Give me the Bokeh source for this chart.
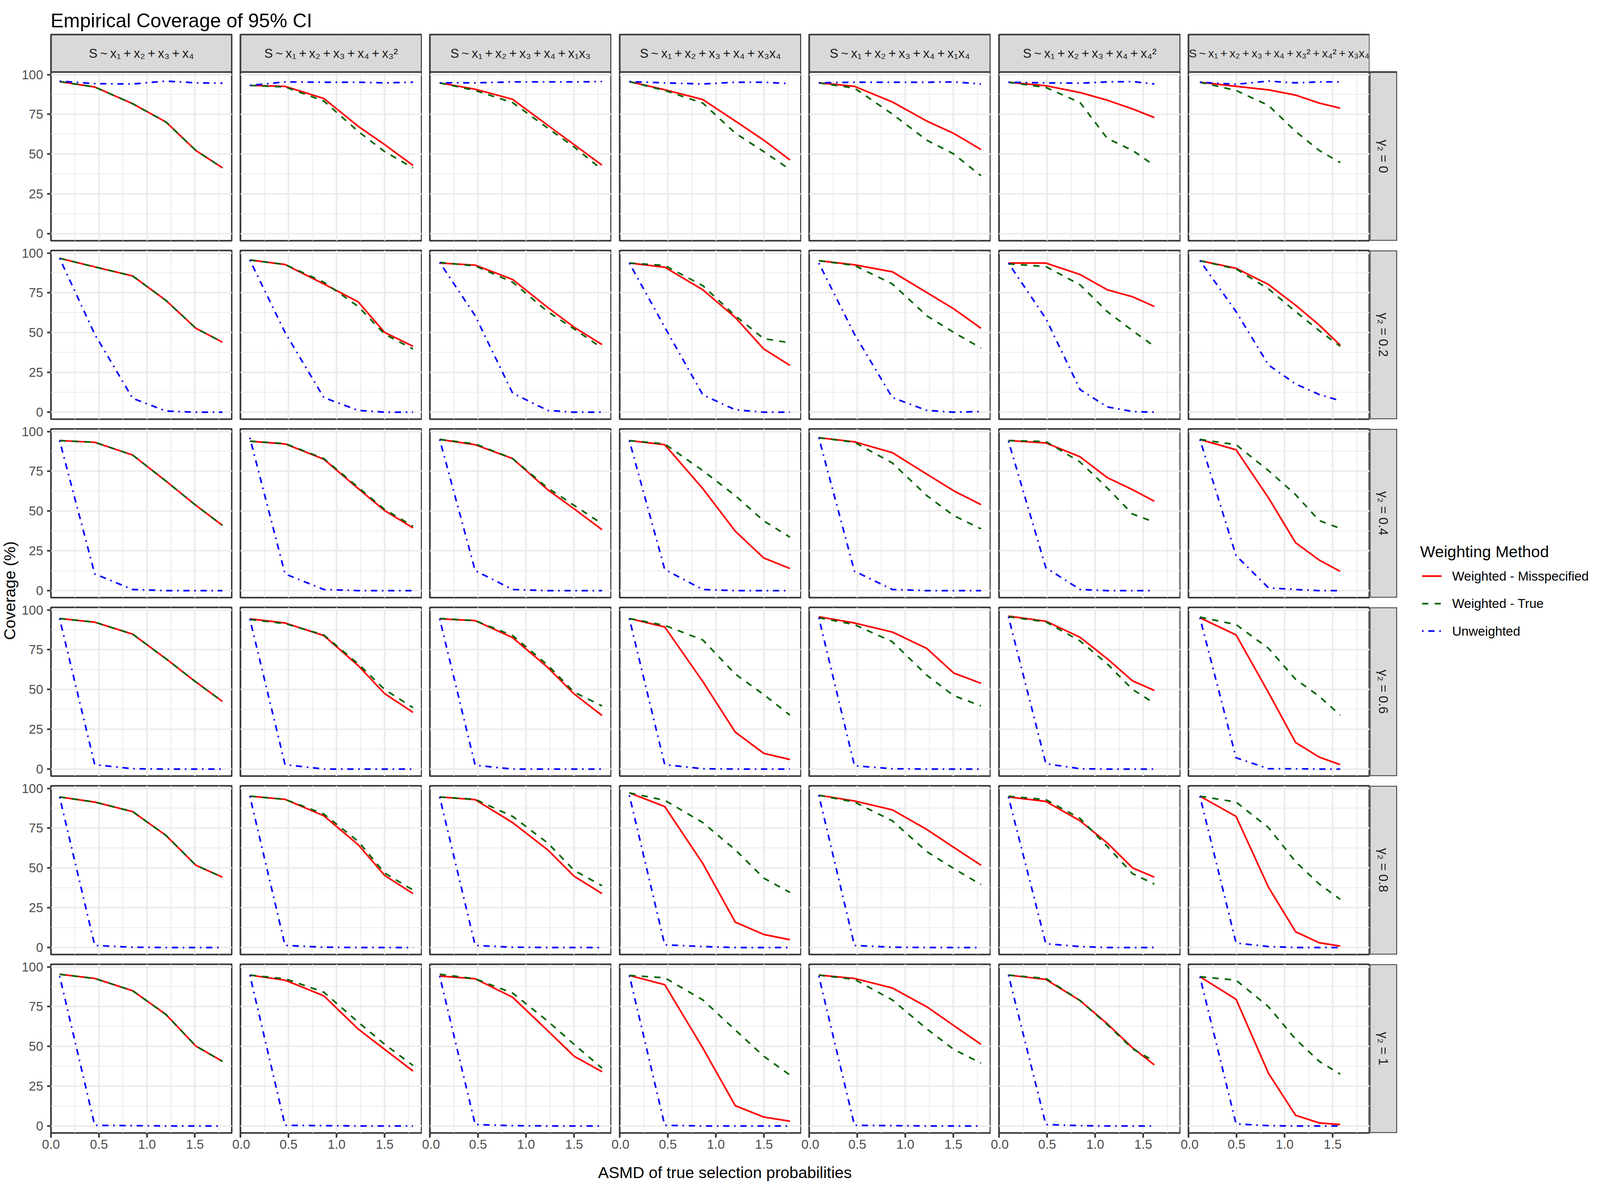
import math
from bokeh.plotting import figure
from bokeh.models import (Range1d, FixedTicker, PrintfTickFormatter, GridBox, ColumnDataSource,
                          BoxAnnotation, Label)
from bokeh.core.properties import value
from bokeh.embed import file_html
from bokeh.resources import INLINE

# ---------------- text ----------------
TITLE = "Empirical Coverage of 95% CI"
X_LABEL = "ASMD of true selection probabilities"
Y_LABEL = "Coverage (%)"
LEGEND_TITLE = "Weighting Method"
METHODS = ["Weighted - Misspecified", "Weighted - True", "Unweighted"]
T = "\u2009"
BASE = f"S{T}~{T}x\u2081{T}+{T}x\u2082{T}+{T}x\u2083{T}+{T}x\u2084"
MODELS = [
    BASE,
    BASE + f"{T}+{T}x\u2083\u00b2",
    BASE + f"{T}+{T}x\u2081x\u2083",
    BASE + f"{T}+{T}x\u2083x\u2084",
    BASE + f"{T}+{T}x\u2081x\u2084",
    BASE + f"{T}+{T}x\u2084\u00b2",
    BASE + f"{T}+{T}x\u2083\u00b2{T}+{T}x\u2084\u00b2{T}+{T}x\u2083x\u2084",
]
GAMMAS = ["\u03b3\u2082 = 0", "\u03b3\u2082 = 0.2", "\u03b3\u2082 = 0.4",
          "\u03b3\u2082 = 0.6", "\u03b3\u2082 = 0.8", "\u03b3\u2082 = 1"]
X_TICKS = [0.0, 0.5, 1.0, 1.5]
X_MINOR = [0.25, 0.75, 1.25, 1.75]
Y_TICKS = [0, 25, 50, 75, 100]
Y_MINOR = [12.5, 37.5, 62.5, 87.5]

# ---------------- data: ASMD per selection model ----------------
ASMD_M1 = [0.090, 0.456, 0.851, 1.199, 1.510, 1.787]
ASMD_M2 = [0.098, 0.464, 0.867, 1.225, 1.500, 1.795]
ASMD_M3 = [0.102, 0.471, 0.860, 1.225, 1.500, 1.790]
ASMD_M4 = [0.100, 0.468, 0.864, 1.202, 1.498, 1.770]
ASMD_M5 = [0.100, 0.471, 0.865, 1.223, 1.504, 1.787]
ASMD_M6 = [0.098, 0.487, 0.843, 1.126, 1.389, 1.615]
ASMD_M7 = [0.119, 0.495, 0.833, 1.114, 1.360, 1.578]

# coverage (%) per gamma2, one list per selection model (M1..M7)
MIS_G00 = [[95.6, 92.2, 81.7, 70.2, 52.3, 41.4], [93.2, 92.6, 85.0, 67.5, 56.0, 42.9],
           [94.8, 90.8, 84.5, 68.2, 56.0, 43.1], [95.6, 90.5, 84.3, 70.8, 58.8, 46.4],
           [94.8, 92.6, 82.8, 70.8, 63.0, 52.9], [95.2, 93.0, 88.7, 83.9, 78.4, 73.0],
           [95.2, 92.6, 90.4, 87.1, 82.1, 78.9]]
TRU_G00 = [[95.6, 92.2, 81.7, 70.2, 52.3, 41.4], [93.2, 92.2, 83.4, 64.3, 51.6, 41.4],
           [94.8, 90.0, 82.4, 66.4, 54.5, 40.3], [95.6, 90.0, 82.1, 63.2, 51.6, 40.3],
           [94.8, 91.5, 75.2, 58.8, 50.1, 36.4], [95.2, 91.9, 82.4, 59.9, 52.3, 42.9],
           [95.2, 90.0, 80.6, 64.3, 52.3, 44.7]]
UNW_G00 = [[95.9, 94.3, 94.1, 95.9, 94.8, 94.6], [93.2, 95.4, 95.2, 95.2, 94.8, 95.2],
           [94.8, 94.8, 95.4, 95.4, 95.4, 95.6], [95.6, 94.8, 94.1, 95.2, 95.2, 94.3],
           [94.8, 95.2, 95.2, 95.2, 95.4, 94.1], [95.2, 94.8, 94.6, 95.4, 95.6, 94.1],
           [95.2, 93.9, 95.9, 94.8, 95.4, 95.4]]

MIS_G02 = [[96.7, 91.3, 85.6, 70.2, 52.7, 44.0], [95.6, 92.8, 80.6, 69.3, 50.1, 41.4],
           [93.7, 92.4, 83.4, 65.8, 53.4, 42.5], [93.7, 91.1, 76.9, 59.5, 39.7, 29.4],
           [95.2, 92.6, 88.2, 75.2, 64.9, 52.7], [93.7, 93.7, 86.5, 76.9, 72.5, 66.4],
           [95.2, 90.4, 80.2, 67.2, 54.7, 42.1]]
TRU_G02 = [[96.7, 91.3, 85.6, 70.2, 52.7, 44.0], [95.6, 92.8, 81.7, 66.4, 49.0, 39.7],
           [94.1, 91.9, 81.7, 63.2, 52.3, 40.3], [93.7, 92.2, 79.5, 60.6, 46.2, 43.6],
           [95.2, 92.2, 80.6, 60.6, 50.1, 40.3], [93.2, 91.5, 80.0, 63.2, 51.2, 41.4],
           [95.2, 90.0, 77.4, 63.2, 51.2, 41.4]]
UNW_G02 = [[96.7, 49.0, 8.7, 0.7, 0.0, 0.0], [95.6, 50.1, 9.2, 1.1, 0.0, 0.0],
           [94.1, 60.6, 12.0, 1.1, 0.0, 0.0], [93.7, 53.4, 10.9, 1.5, 0.0, 0.0],
           [93.7, 49.0, 9.2, 1.1, 0.0, 0.4], [93.7, 58.8, 14.2, 3.3, 0.4, 0.0],
           [95.2, 63.2, 29.6, 17.7, 11.1, 7.2]]

MIS_G04 = [[94.3, 93.2, 85.2, 68.8, 53.6, 41.0], [93.9, 92.2, 82.6, 64.1, 50.3, 39.4],
           [95.0, 91.7, 83.0, 63.4, 51.4, 38.3], [94.3, 91.7, 64.1, 37.3, 20.5, 13.9],
           [96.1, 93.5, 86.7, 73.2, 62.7, 54.0], [94.3, 92.8, 84.1, 71.0, 63.4, 56.2],
           [95.0, 88.5, 58.2, 30.1, 19.2, 12.1]]
TRU_G04 = [[94.3, 93.2, 85.2, 68.8, 53.6, 41.0], [93.9, 92.4, 83.0, 64.9, 51.0, 40.5],
           [95.0, 92.2, 83.0, 64.5, 53.6, 42.0], [94.3, 92.2, 75.4, 59.7, 43.8, 33.6],
           [96.1, 93.2, 80.2, 59.7, 47.1, 38.8], [94.3, 93.7, 80.8, 64.5, 48.1, 43.1],
           [95.0, 91.7, 75.4, 60.3, 44.0, 39.1]]
UNW_G04 = [[94.3, 10.5, 0.7, 0.0, 0.0, 0.0], [96.1, 10.5, 0.7, 0.0, 0.0, 0.0],
           [95.0, 12.6, 0.7, 0.0, 0.0, 0.0], [94.3, 13.3, 0.7, 0.0, 0.0, 0.0],
           [96.1, 12.2, 0.7, 0.0, 0.0, 0.0], [93.9, 14.4, 0.7, 0.0, 0.0, 0.0],
           [95.0, 22.0, 1.7, 0.7, 0.0, 0.0]]

MIS_G06 = [[94.6, 92.3, 84.8, 69.3, 54.7, 42.5], [94.4, 91.8, 83.9, 65.0, 47.4, 35.6],
           [94.4, 93.3, 82.6, 63.9, 47.2, 33.7], [94.6, 89.3, 55.0, 23.2, 9.9, 6.0],
           [95.7, 91.8, 86.1, 75.8, 60.3, 53.9], [96.1, 92.9, 82.8, 69.3, 55.4, 49.4],
           [95.1, 84.3, 48.0, 16.7, 7.5, 2.8]]
TRU_G06 = [[94.6, 92.3, 84.8, 69.3, 54.7, 42.5], [94.0, 91.4, 84.3, 66.1, 50.0, 38.6],
           [94.6, 93.3, 83.9, 65.4, 48.3, 39.7], [94.6, 90.3, 81.1, 59.7, 46.8, 33.9],
           [95.1, 90.8, 80.0, 59.0, 46.1, 39.7], [95.7, 92.5, 80.5, 66.1, 50.0, 41.4],
           [95.5, 90.8, 75.8, 56.4, 45.7, 33.9]]
UNW_G06 = [[94.6, 2.8, 0.2, 0.0, 0.0, 0.0], [94.4, 2.8, 0.0, 0.0, 0.0, 0.0],
           [94.4, 2.4, 0.0, 0.0, 0.0, 0.0], [94.6, 2.8, 0.2, 0.0, 0.0, 0.0],
           [95.1, 2.1, 0.2, 0.0, 0.0, 0.0], [95.7, 3.4, 0.2, 0.0, 0.0, 0.0],
           [95.1, 7.1, 0.2, 0.2, 0.0, 0.0]]

MIS_G08 = [[94.6, 91.4, 85.4, 70.4, 51.7, 44.2], [95.1, 93.1, 82.8, 64.6, 45.3, 33.9],
           [94.6, 92.9, 78.5, 61.4, 44.8, 33.9], [97.2, 88.6, 52.8, 15.9, 8.2, 4.9],
           [95.7, 92.1, 86.5, 74.2, 62.9, 51.7], [94.6, 91.8, 79.6, 65.7, 50.0, 44.2],
           [95.1, 82.4, 37.8, 9.9, 3.0, 0.9]]
TRU_G08 = [[94.6, 91.4, 85.4, 70.4, 51.7, 44.2], [95.1, 93.1, 83.9, 66.7, 46.8, 36.1],
           [94.6, 93.1, 82.4, 65.7, 48.5, 38.8], [97.2, 92.5, 78.5, 61.4, 43.6, 34.6],
           [95.7, 91.4, 79.6, 60.3, 49.6, 39.5], [95.1, 92.9, 81.1, 63.5, 46.4, 39.9],
           [95.1, 91.4, 75.3, 53.9, 39.9, 30.3]]
UNW_G08 = [[94.6, 1.3, 0.2, 0.0, 0.0, 0.0], [95.1, 1.3, 0.2, 0.0, 0.0, 0.0],
           [94.6, 1.3, 0.2, 0.0, 0.0, 0.0], [95.7, 1.7, 0.6, 0.0, 0.0, 0.0],
           [95.7, 1.3, 0.2, 0.0, 0.0, 0.0], [94.6, 2.4, 0.6, 0.0, 0.0, 0.0],
           [95.1, 2.8, 0.6, 0.0, 0.0, 0.0]]

MIS_G10 = [[95.3, 92.7, 85.0, 70.0, 50.2, 40.6], [94.8, 91.6, 81.8, 60.9, 48.1, 34.5],
           [94.2, 92.5, 80.9, 59.9, 43.8, 34.1], [94.6, 88.8, 49.0, 12.7, 5.6, 3.0],
           [94.8, 92.7, 86.7, 74.9, 63.1, 51.3], [94.8, 92.1, 78.8, 64.2, 49.1, 38.4],
           [93.8, 79.6, 33.0, 6.7, 1.9, 0.9]]
TRU_G10 = [[95.3, 92.7, 85.0, 70.0, 50.2, 40.6], [94.8, 92.5, 84.1, 65.2, 51.3, 38.0],
           [95.3, 92.5, 83.5, 65.9, 51.3, 36.3], [94.6, 93.1, 79.2, 60.3, 43.8, 32.0],
           [94.8, 92.1, 79.2, 61.0, 48.1, 39.5], [94.8, 92.7, 78.8, 63.7, 48.5, 40.6],
           [93.8, 91.6, 74.9, 54.5, 40.6, 32.6]]
UNW_G10 = [[94.2, 0.4, 0.2, 0.0, 0.0, 0.0], [94.8, 0.4, 0.2, 0.0, 0.0, 0.0],
           [94.2, 0.9, 0.2, 0.0, 0.0, 0.0], [94.6, 0.4, 0.0, 0.0, 0.0, 0.0],
           [94.2, 0.4, 0.2, 0.0, 0.0, 0.0], [94.8, 0.9, 0.2, 0.0, 0.0, 0.0],
           [93.8, 1.3, 0.2, 0.0, 0.0, 0.0]]

ASMD = [ASMD_M1, ASMD_M2, ASMD_M3, ASMD_M4, ASMD_M5, ASMD_M6, ASMD_M7]
MIS = [MIS_G00, MIS_G02, MIS_G04, MIS_G06, MIS_G08, MIS_G10]
TRU = [TRU_G00, TRU_G02, TRU_G04, TRU_G06, TRU_G08, TRU_G10]
UNW = [UNW_G00, UNW_G02, UNW_G04, UNW_G06, UNW_G08, UNW_G10]

# ---------------- styles / geometry (CSS px) ----------------
FONT = "Liberation Sans"
LW = 4.2
RED, GREEN, BLUE = "#FF0000", "#006400", "#0000FF"
DASH_TRUE = "16 16"
DASH_UNW = "4 12 16 12"
BORDER = "#333333"
STRIP_FILL = "#D9D9D9"
GRID = "#EBEBEB"
FW, FH = 464, 432
STRIP_H = 96
SMALL = "33px"
X_RANGE = (0, 1.885)
Y_RANGE = (-4.4, 101.6)
PX_PER_Y = FH / (Y_RANGE[1] - Y_RANGE[0])
Y_TOP_STRIP = Y_RANGE[1] + STRIP_H / PX_PER_Y

COL_BL = [77, 21, 20, 21, 20, 21, 20]
COL_BR = [1, 1, 1, 1, 1, 1, 0]


def row_borders(r):
    bt = 3 if r == 0 else 12
    bb = 62 if r == 5 else 13
    return bt, bb


def bare(width, height):
    p = figure(width=width, height=height, min_border=0,
               min_border_left=0, min_border_right=0, min_border_top=0, min_border_bottom=0,
               x_range=Range1d(0, width), y_range=Range1d(0, height),
               x_axis_location=None, y_axis_location=None,
               output_backend="svg", toolbar_location=None,
               background_fill_color=None, border_fill_color=None,
               outline_line_color=None)
    p.grid.visible = False
    return p


def style_axis(ax, tick_len):
    ax.axis_line_color = None
    ax.minor_tick_line_color = None
    ax.major_tick_line_color = BORDER
    ax.major_tick_line_width = LW
    ax.major_tick_in = 0
    ax.major_tick_out = tick_len
    ax.major_label_text_font = FONT
    ax.major_label_text_font_size = SMALL
    ax.major_label_text_color = "#4D4D4D"


def make_panel(r, c):
    bt, bb = row_borders(r)
    top = Y_TOP_STRIP if r == 0 else Y_RANGE[1]
    fh = FH + STRIP_H if r == 0 else FH
    p = figure(frame_width=FW, frame_height=fh,
               x_range=Range1d(*X_RANGE), y_range=Range1d(Y_RANGE[0], top),
               min_border_left=COL_BL[c], min_border_right=COL_BR[c],
               min_border_top=bt, min_border_bottom=bb,
               x_axis_location="below" if r == 5 else None,
               y_axis_location="left" if c == 0 else None,
               output_backend="svg", toolbar_location=None,
               background_fill_color="white", border_fill_color=None,
               outline_line_color=BORDER, outline_line_width=LW)
    p.xgrid.ticker = FixedTicker(ticks=X_TICKS, minor_ticks=X_MINOR)
    p.ygrid.ticker = FixedTicker(ticks=Y_TICKS, minor_ticks=Y_MINOR)
    p.grid.grid_line_color = GRID
    p.grid.grid_line_width = LW
    p.grid.minor_grid_line_color = GRID
    p.grid.minor_grid_line_width = LW / 2
    if r == 5:
        ax = p.xaxis[0]
        ax.ticker = FixedTicker(ticks=X_TICKS)
        ax.formatter = PrintfTickFormatter(format="%.1f")
        ax.major_label_standoff = 5
        style_axis(ax, 12)
    if c == 0:
        ax = p.yaxis[0]
        ax.ticker = FixedTicker(ticks=Y_TICKS)
        ax.major_label_standoff = 10
        style_axis(ax, 10)

    src = ColumnDataSource(dict(x=ASMD[c], mis=MIS[r][c], tru=TRU[r][c], unw=UNW[r][c]))
    p.line("x", "mis", source=src, line_color=RED, line_width=LW, line_join="round")
    p.line("x", "tru", source=src, line_color=GREEN, line_width=LW, line_join="round",
           line_dash=DASH_TRUE)
    p.line("x", "unw", source=src, line_color=BLUE, line_width=LW, line_join="round",
           line_dash=DASH_UNW)

    if r == 0:
        # facet strip on top of the first row of panels
        p.add_layout(BoxAnnotation(bottom=Y_RANGE[1], fill_color=STRIP_FILL, fill_alpha=1.0,
                                   line_color=BORDER, line_width=LW, line_alpha=1.0))
        p.add_layout(Label(x=sum(X_RANGE) / 2, y=(Y_RANGE[1] + Y_TOP_STRIP) / 2,
                           text=MODELS[c], text_align="center", text_baseline="middle",
                           text_font=FONT, text_font_size="30px" if c == 6 else SMALL,
                           text_color="#1A1A1A"))
    return p


def make_right_strip(r):
    # same frame geometry as the panels of the row, so that frames align
    bt, bb = row_borders(r)
    fh = FH + STRIP_H if r == 0 else FH
    ytop = 1 + STRIP_H / FH if r == 0 else 1
    p = figure(frame_width=70, frame_height=fh, x_range=Range1d(0, 1), y_range=Range1d(0, ytop),
               min_border_left=0, min_border_right=3, min_border_top=bt, min_border_bottom=bb,
               x_axis_location=None, y_axis_location=None,
               output_backend="svg", toolbar_location=None,
               background_fill_color=None, border_fill_color=None, outline_line_color=None)
    p.grid.visible = False
    p.add_layout(BoxAnnotation(top=1, fill_color=STRIP_FILL, fill_alpha=1.0,
                               line_color=BORDER, line_width=LW, line_alpha=1.0))
    p.add_layout(Label(x=0.5, y=0.5, text=GAMMAS[r], angle=-math.pi / 2,
                       text_align="center", text_baseline="middle",
                       text_font=FONT, text_font_size=SMALL, text_color="#1A1A1A"))
    return p


children = []
# grid columns: 0 ylabel | 1..7 panel columns | 8 right strips | 9 legend
# grid rows:    0 title | 1..6 panel rows | 7 x label

title_fig = bare(4080, 85)
title_fig.text(x=[129], y=[33], text=[TITLE], text_align="left", text_baseline="alphabetic",
               text_font=value(FONT), text_font_size="50px", text_color="black")
children.append((title_fig, 0, 0, 1, 10))

for r in range(6):
    for c in range(7):
        children.append((make_panel(r, c), r + 1, c + 1))
    children.append((make_right_strip(r), r + 1, 8))

ylab = bare(52, 2878)
ylab.text(x=[24], y=[1421], text=[Y_LABEL], angle=math.pi / 2, text_align="center",
          text_baseline="middle", text_font=value(FONT), text_font_size="41px",
          text_color="black")
children.append((ylab, 1, 0, 6, 1))

xlab = bare(3454, 66)
xlab.text(x=[1765], y=[27], text=[X_LABEL], text_align="center", text_baseline="alphabetic",
          text_font=value(FONT), text_font_size="41px", text_color="black")
children.append((xlab, 7, 1, 1, 7))

leg = bare(501, 2878)
leg.text(x=[56], y=[1523], text=[LEGEND_TITLE], text_align="left", text_baseline="alphabetic",
         text_font=value(FONT), text_font_size="41px", text_color="black")
key_y = [1459, 1387, 1315]
key_styles = [(RED, "solid"), (GREEN, DASH_TRUE), (BLUE, DASH_UNW)]
for ky, (col, dash), lab in zip(key_y, key_styles, METHODS):
    leg.line(x=[61, 111], y=[ky, ky], line_color=col, line_width=LW, line_dash=dash)
    leg.text(x=[138], y=[ky], text=[lab], text_align="left", text_baseline="middle",
             text_font=value(FONT), text_font_size=SMALL, text_color="black")
children.append((leg, 1, 9, 6, 1))

COLS = ["52px", "542px", "486px", "485px", "486px", "485px", "486px", "484px", "73px", "501px"]
ROWS = ["85px", "544px", "457px", "457px", "457px", "457px", "506px", "66px"]

grid = GridBox(children=children, cols=COLS, rows=ROWS, spacing=0)

open("out.html", "w").write(file_html(grid, INLINE, title=TITLE))
